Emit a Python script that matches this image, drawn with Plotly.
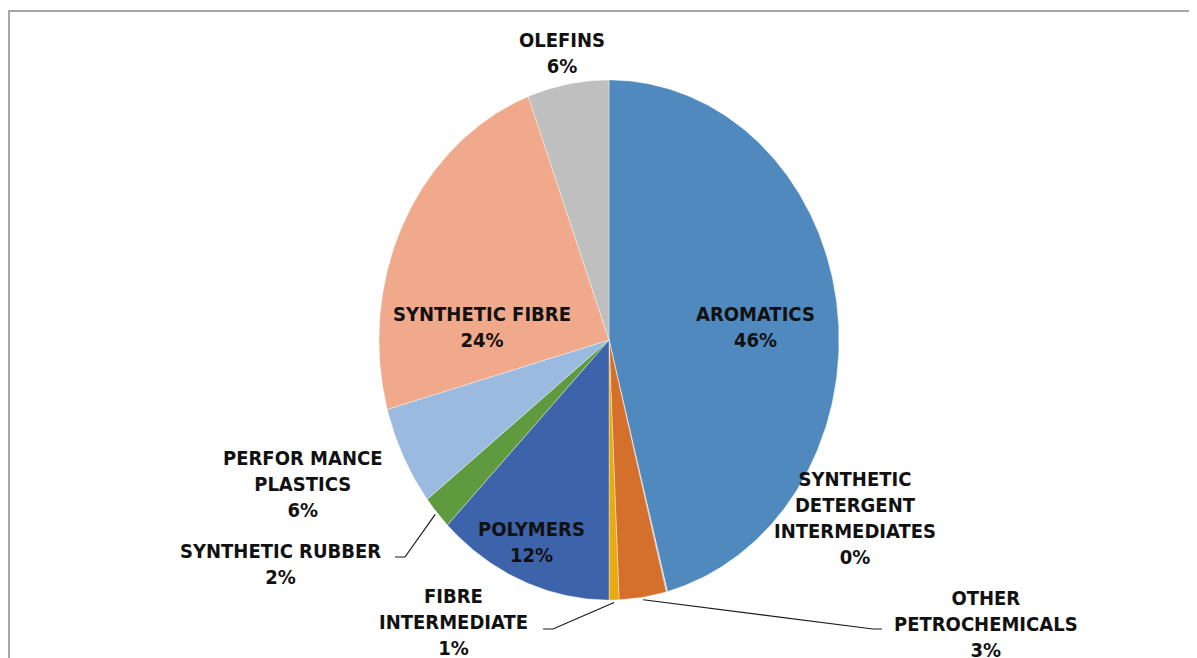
import numpy as np
import plotly.graph_objects as go

# ---- data ----
categories = ["AROMATICS", "SYNTHETIC DETERGENT INTERMEDIATES", "OTHER PETROCHEMICALS",
              "FIBRE INTERMEDIATE", "POLYMERS", "SYNTHETIC RUBBER",
              "PERFOR MANCE PLASTICS", "SYNTHETIC FIBRE", "OLEFINS"]
values = [45.9, 0.1, 3.3, 0.7, 12.4, 2.1, 6.2, 23.6, 5.7]
label_lines = [["AROMATICS"], ["SYNTHETIC", "DETERGENT", "INTERMEDIATES"], ["OTHER", "PETROCHEMICALS"],
               ["FIBRE", "INTERMEDIATE"], ["POLYMERS"], ["SYNTHETIC RUBBER"],
               ["PERFOR MANCE", "PLASTICS"], ["SYNTHETIC FIBRE"], ["OLEFINS"]]
colors = ["#4F89BE", "#8064A2", "#D46F2C", "#E8AA12", "#3D63AA", "#5F9B3E",
          "#9BBADF", "#F0A98A", "#BFBFBF"]

# ---- layout geometry (page pixels) ----
W, H = 1197, 658
OFF = 8  # default page body margin
cx, cy, rx, ry = 609, 340, 230, 260
FONT = "Liberation Sans Narrow, Arial Narrow, DejaVu Sans Condensed, sans-serif"
FS = 20

# label anchor positions (centre of text block) and leader-line elbows
label_pos = {
    "AROMATICS": (755, 327, None),
    "SYNTHETIC DETERGENT INTERMEDIATES": (855, 518, None),
    "OTHER PETROCHEMICALS": (986, 624, [(873, 629), (882, 629)]),
    "FIBRE INTERMEDIATE": (453, 622, [(553, 629), (543, 629)]),
    "POLYMERS": (531, 542, None),
    "SYNTHETIC RUBBER": (280, 564, [(405, 557), (395, 557)]),
    "PERFOR MANCE PLASTICS": (302, 484, None),
    "SYNTHETIC FIBRE": (482, 327, None),
    "OLEFINS": (562, 53, None),
}

total = sum(values)
fig = go.Figure()

start = 0.0
mids = []
for cat, v, col in zip(categories, values, colors):
    span = v / total * 2 * np.pi
    th = np.linspace(start, start + span, max(3, int(span * 80)))
    xs = np.concatenate([[cx], cx + rx * np.sin(th), [cx]])
    ys = np.concatenate([[cy], cy - ry * np.cos(th), [cy]])
    fig.add_trace(go.Scatter(x=xs, y=ys, fill="toself", fillcolor=col, mode="lines",
                             line=dict(color="rgba(255,255,255,0.6)", width=0.6),
                             hoverinfo="text", text=f"{cat}: {v}", showlegend=False))
    mids.append(start + span / 2)
    start += span

annotations = []
for cat, v, lines, mid in zip(categories, values, label_lines, mids):
    pct = int(v / total * 100 + 0.5)
    txt = "<br>".join(lines + [f"{pct}%"])
    lx, ly, leader = label_pos[cat]
    annotations.append(dict(x=lx, y=ly, xref="x", yref="y", text=txt, showarrow=False,
                            xanchor="center", yanchor="middle", align="center",
                            font=dict(family=FONT, size=FS, color="#111111", weight="bold")))
    if leader:
        sx = cx + rx * 1.01 * np.sin(mid)
        sy = cy - ry * 1.01 * np.cos(mid)
        px = [sx] + [p[0] for p in leader]
        py = [sy] + [p[1] for p in leader]
        fig.add_trace(go.Scatter(x=px, y=py, mode="lines", line=dict(color="#1a1a1a", width=1.2),
                                 hoverinfo="skip", showlegend=False))

fig.update_layout(
    width=W, height=H, margin=dict(l=0, r=0, t=0, b=0),
    paper_bgcolor="white", plot_bgcolor="white",
    xaxis=dict(range=[OFF, W + OFF], visible=False, fixedrange=True),
    yaxis=dict(range=[H + OFF, OFF], visible=False, fixedrange=True),
    annotations=annotations,
    shapes=[dict(type="rect", xref="x", yref="y", x0=9, y0=11, x1=1196, y1=H + 30,
                 line=dict(color="#A6A6A6", width=2), layer="below")],
)
fig.write_html("out.html")
